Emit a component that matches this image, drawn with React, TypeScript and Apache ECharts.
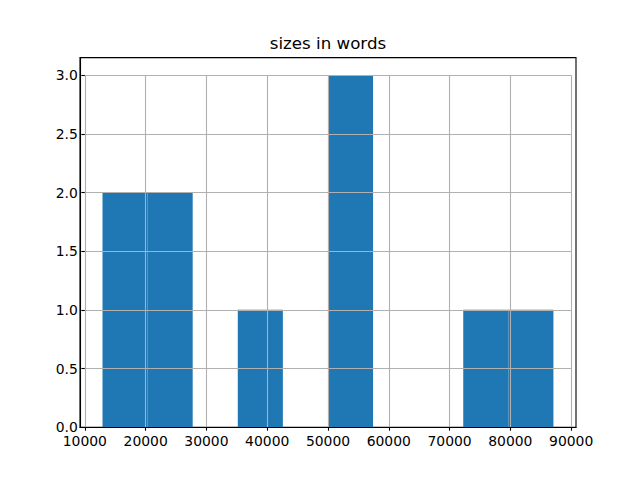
import React, { useEffect, useRef } from "react";
import * as echarts from "echarts";

const binStarts = [12903, 20321, 27740, 35158, 42577, 49995, 57413, 64832, 72250, 79669];
const binEnds = [20321, 27740, 35158, 42577, 49995, 57413, 64832, 72250, 79669, 87087];
const counts = [2, 2, 0, 1, 0, 3, 0, 0, 1, 1];
const xTickMin = 10000;
const xTickMax = 90000;
const xTickStep = 10000;
const yTickMax = 3;
const yTickStep = 0.5;
const titleText = "sizes in words";

const X_MIN = 9200;
const X_MAX = 90800;
const Y_MAX = 3.15;

export default function App() {
  const ref = useRef<HTMLDivElement>(null);
  useEffect(() => {
    document.body.style.margin = "0";
    if (!ref.current) return;
    const chart = echarts.init(ref.current, null, { renderer: "svg" });
    const L = 80, R = 576, T = 57.6, B = 427.2;
    const W = R - L, H = B - T;
    const tl = L + ((xTickMin - X_MIN) / (X_MAX - X_MIN)) * W;
    const tr = L + ((xTickMax - X_MIN) / (X_MAX - X_MIN)) * W;
    const tt = B - (yTickMax / Y_MAX) * H;
    const font = "DejaVu Sans";
    const data = binStarts.map((s, i) => [s, binEnds[i], counts[i]]);
    chart.setOption({
      animation: false,
      grid: [
        { left: L, right: 640 - R, top: T, bottom: 480 - B, show: true, borderColor: "#000", borderWidth: 1.1, backgroundColor: "transparent" },
        { left: tl, right: 640 - tr, top: tt, bottom: 480 - B },
      ],
      graphic: [
        {
          type: "text",
          x: (L + R) / 2,
          y: 43,
          z: 10,
          style: { text: titleText, fontSize: 16.67, fontFamily: font, fill: "#000", align: "center", verticalAlign: "middle" },
        },
      ],
      xAxis: [
        {
          type: "value", gridIndex: 0, min: X_MIN, max: X_MAX, z: 6,
          axisLine: { show: true, onZero: false, lineStyle: { color: "#000", width: 1.1 } },
          axisTick: { show: false }, axisLabel: { show: false }, splitLine: { show: false },
        },
        {
          type: "value", gridIndex: 1, min: xTickMin, max: xTickMax, interval: xTickStep, z: 5,
          axisLine: { show: false },
          axisTick: { show: true, inside: false, length: 3.5, lineStyle: { color: "#000", width: 1.1 } },
          axisLabel: { show: true, margin: 7, color: "#000", fontSize: 13.9, fontFamily: font, formatter: (v: number) => String(v) },
          splitLine: { show: true, lineStyle: { color: "#b0b0b0", width: 1.1 } },
        },
      ],
      yAxis: [
        {
          type: "value", gridIndex: 0, min: 0, max: Y_MAX, z: 6,
          axisLine: { show: true, onZero: false, lineStyle: { color: "#000", width: 1.1 } },
          axisTick: { show: false }, axisLabel: { show: false }, splitLine: { show: false },
        },
        {
          type: "value", gridIndex: 1, min: 0, max: yTickMax, interval: yTickStep, z: 5,
          axisLine: { show: false },
          axisTick: { show: true, inside: false, length: 3.5, lineStyle: { color: "#000", width: 1.1 } },
          axisLabel: { show: true, margin: 7, color: "#000", fontSize: 13.9, fontFamily: font, formatter: (v: number) => v.toFixed(1) },
          splitLine: { show: true, lineStyle: { color: "#b0b0b0", width: 1.1 } },
        },
      ],
      series: [
        {
          type: "custom",
          xAxisIndex: 0,
          yAxisIndex: 0,
          z: 2,
          encode: { x: [0, 1], y: 2 },
          data,
          renderItem: (params: any, api: any) => {
            const x0 = api.value(0), x1 = api.value(1), c = api.value(2);
            const p0 = api.coord([x0, c]);
            const p1 = api.coord([x1, 0]);
            return {
              type: "rect",
              shape: { x: p0[0], y: p0[1], width: p1[0] - p0[0], height: p1[1] - p0[1] },
              style: { fill: "#1f77b4" },
            };
          },
        },
      ],
    });
    return () => chart.dispose();
  }, []);
  return <div ref={ref} style={{ width: 640, height: 480 }} />;
}
